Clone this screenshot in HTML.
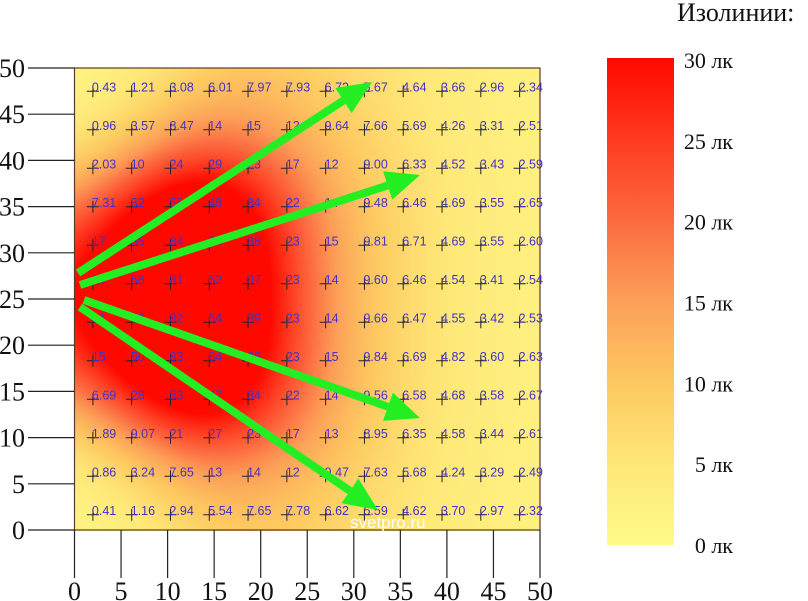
<!DOCTYPE html>
<html><head><meta charset="utf-8">
<style>
body{margin:0;background:#fff;width:808px;height:601px;overflow:hidden;position:relative;font-family:"Liberation Serif",serif;}
#c{position:absolute;left:74px;top:68px;}
svg{position:absolute;left:0;top:0;}
</style></head><body>
<canvas id="c" width="466" height="463"></canvas>
<svg id="s" width="808" height="601"></svg>
<script>
const xTicks=[0,5,10,15,20,25,30,35,40,45,50];
const yTicks=[0,5,10,15,20,25,30,35,40,45,50];
const cbTicks=[0,5,10,15,20,25,30];
const row1=[0.43,1.21,3.08,6.01,7.97,7.93,6.72,5.67,4.64,3.66,2.96,2.34];
const row2=[0.96,3.57,8.47,14,15,12,9.64,7.66,5.69,4.26,3.31,2.51];
const row3=[2.03,10,24,29,23,17,12,9.00,6.33,4.52,3.43,2.59];
const row4=[7.31,32,56,48,34,22,14,9.48,6.46,4.69,3.55,2.65];
const row5=[17,55,84,74,38,23,15,9.81,6.71,4.69,3.55,2.60];
const row6=[21,58,81,62,37,23,14,9.60,6.46,4.54,3.41,2.54];
const row7=[21,58,82,64,39,23,14,9.66,6.47,4.55,3.42,2.53];
const row8=[15,50,83,64,38,23,15,9.84,6.69,4.82,3.60,2.63];
const row9=[6.69,28,53,47,34,22,14,9.56,6.58,4.68,3.58,2.67];
const row10=[1.89,9.07,21,27,23,17,13,8.95,6.35,4.58,3.44,2.61];
const row11=[0.86,3.24,7.65,13,14,12,9.47,7.63,5.68,4.24,3.29,2.49];
const row12=[0.41,1.16,2.94,5.54,7.65,7.78,6.62,5.59,4.62,3.70,2.97,2.32];
const rows=[row1,row2,row3,row4,row5,row6,row7,row8,row9,row10,row11,row12];

const PL=74.5,PR=540,PT=68,PB=530;
const sx=v=>PL+(v/50)*(PR-PL);
const sy=v=>PB-(v/50)*(PB-PT);
const stops=[[0,[254,251,136]],[5,[254,232,120]],[10,[253,200,96]],[15,[252,160,88]],[20,[252,106,64]],[25,[255,58,32]],[30,[255,8,0]]];
function col(v){v=Math.max(0,Math.min(30,v));for(let i=0;i<stops.length-1;i++){const a=stops[i],b=stops[i+1];if(v<=b[0]){const t=(v-a[0])/(b[0]-a[0]);return a[1].map((c,k)=>Math.round(c+(b[1][k]-c)*t));}}return stops[6][1];}

const n=rows.length,m=rows[0].length;
const W=466,H=463,cw=(PR-PL)/m,ch=(PB-PT)/n;
const ctx=document.getElementById('c').getContext('2d');
const img=ctx.createImageData(W,H);
const sig=1.2*cw;
for(let y=0;y<H;y++){for(let x=0;x<W;x++){
 let s=0,ws=0;
 for(let i=0;i<n;i++){const dy=y-(i+0.5)*ch;const ey=dy*dy;
  for(let j=0;j<m;j++){const dx=x-(j+0.5)*cw;const w=Math.exp(-(dx*dx+ey)/(2*sig*sig));s+=w*Math.min(rows[i][j],50);ws+=w;}}
 const c=col(s/ws);const k=(y*W+x)*4;img.data[k]=c[0];img.data[k+1]=c[1];img.data[k+2]=c[2];img.data[k+3]=255;
}}
ctx.putImageData(img,0,0);

const NS='http://www.w3.org/2000/svg';const S=document.getElementById('s');
function el(t,a,p){const e=document.createElementNS(NS,t);for(const k in a)e.setAttribute(k,a[k]);(p||S).appendChild(e);return e;}

const fr=el('rect',{x:PL,y:PT,width:PR-PL,height:PB-PT,fill:'none',stroke:'#5a3a2a','stroke-width':1.2});



yTicks.forEach(v=>{
 const l=el('line',{x1:28,x2:PL,y1:sy(v),y2:sy(v),stroke:'#222','stroke-width':1.2});
 
 
 const t=el('text',{x:25,y:sy(v)+9,'text-anchor':'end','font-size':26,fill:'#111'});
 t.textContent=v;
 
 
});
xTicks.forEach(v=>{
 const l=el('line',{x1:sx(v),x2:sx(v),y1:PB,y2:578,stroke:'#222','stroke-width':1.2});
 
 
 const t=el('text',{x:sx(v),y:600,'text-anchor':'middle','font-size':26,fill:'#111'});
 t.textContent=v;
 
 
});

rows.forEach((r,i)=>r.forEach((v,j)=>{
 const cx=PL+(j+0.5)*cw-1,cy=PT+(i+0.5)*ch;
 const p=el('path',{d:`M${cx-6} ${cy+4}h12M${cx} ${cy-2}v12`,stroke:'#222','stroke-width':1});
 
 
 const t=el('text',{x:cx-1,y:cy+4,'font-family':'Liberation Sans, sans-serif','font-size':12.5,fill:'#4430c8'});
 t.textContent=(v>=10?String(Math.round(v)):v.toFixed(2));
 
 
}));

const w=el('text',{x:350,y:528,'font-family':'Liberation Sans, sans-serif','font-size':17,fill:'#fff'});
w.textContent='svetpro.ru';



const arrows=[[78,273,372,82],[80,285,420,175],[84,300,420,418],[80,307,378,510]];
arrows.forEach(a=>{
 const [x1,y1,x2,y2]=a;const dx=x2-x1,dy=y2-y1,L=Math.hypot(dx,dy),ux=dx/L,uy=dy/L;
 const bx=x2-ux*34,by=y2-uy*34;
 const g=el('g',{});
 
 
 el('line',{x1,y1,x2:bx,y2:by,stroke:'#22ee22','stroke-width':8},g);
 el('polygon',{points:`${x2},${y2} ${bx-uy*15},${by+ux*15} ${bx+uy*15},${by-ux*15}`,fill:'#22ee22'},g);
});

const defs=el('defs',{});
const lg=el('linearGradient',{id:'cb',x1:0,y1:1,x2:0,y2:0},defs);
stops.forEach(s=>el('stop',{offset:s[0]/30,'stop-color':`rgb(${s[1].join(',')})`},lg));
const cb=el('rect',{x:607,y:58,width:67,height:487,fill:'url(#cb)'});


cbTicks.forEach(v=>{
 const t=el('text',{x:733,y:545-(v/30)*485+8,'text-anchor':'end','font-size':22,fill:'#111'});
 t.textContent=v+' лк';
 
 
});
const tt=el('text',{x:677,y:21,'font-size':26,fill:'#111'});
tt.textContent='Изолинии:';


</script>
</body></html>
